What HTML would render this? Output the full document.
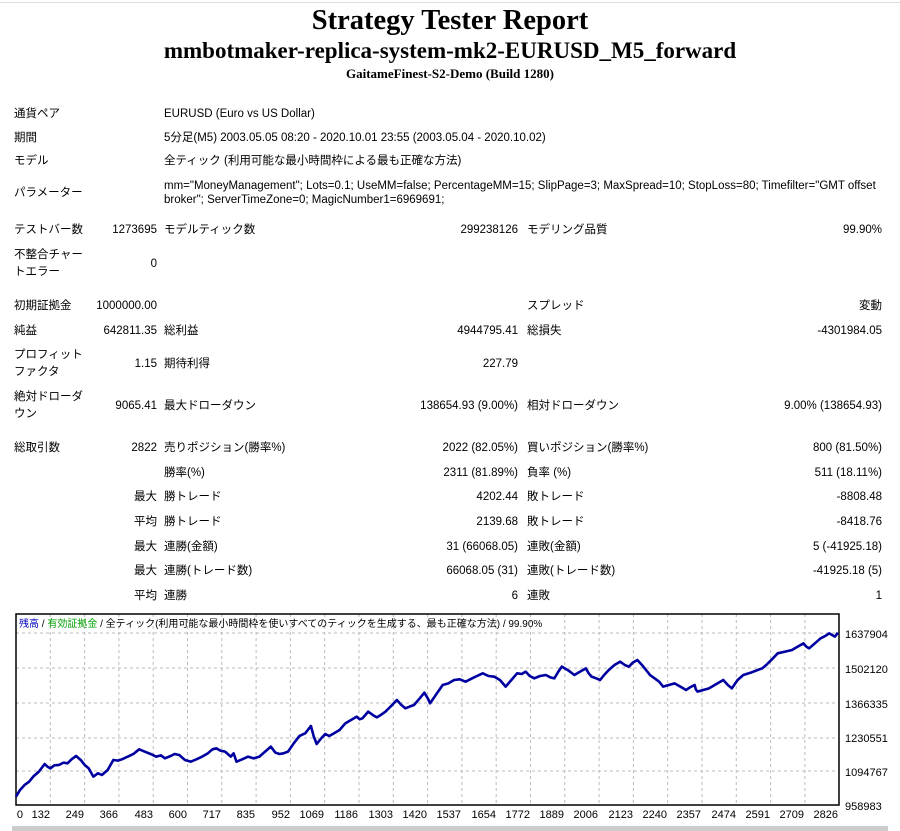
<!DOCTYPE html>
<html><head><meta charset="utf-8"><style>
body{margin:0;width:900px;height:831px;background:#fff;position:relative;overflow:hidden;font-family:"Liberation Sans","Noto Sans CJK JP",sans-serif;font-size:11.5px;color:#000}
.t{position:absolute;white-space:nowrap;line-height:14px}
.r{text-align:right}
.h{position:absolute;left:0;width:900px;text-align:center;font-family:"Liberation Serif",serif;font-weight:bold;white-space:nowrap}
</style></head><body>
<div style="position:absolute;left:0;top:2px;width:900px;height:1px;background:#ddd"></div>
<div class="h" style="top:4px;font-size:28.5px;line-height:34px">Strategy Tester Report</div>
<div class="h" style="top:38px;font-size:23px;line-height:26px">mmbotmaker-replica-system-mk2-EURUSD_M5_forward</div>
<div class="h" style="top:66px;font-size:13px;line-height:16px">GaitameFinest-S2-Demo (Build 1280)</div>

<div class="t" style="left:14px;top:107px">通貨ペア</div>
<div class="t" style="left:164px;top:107px">EURUSD (Euro vs US Dollar)</div>
<div class="t" style="left:14px;top:131px">期間</div>
<div class="t" style="left:164px;top:131px">5分足(M5) 2003.05.05 08:20 - 2020.10.01 23:55 (2003.05.04 - 2020.10.02)</div>
<div class="t" style="left:14px;top:154px">モデル</div>
<div class="t" style="left:164px;top:154px">全ティック (利用可能な最小時間枠による最も正確な方法)</div>
<div class="t" style="left:14px;top:186px">パラメーター</div>
<div class="t" style="left:164px;top:179px">mm="MoneyManagement"; Lots=0.1; UseMM=false; PercentageMM=15; SlipPage=3; MaxSpread=10; StopLoss=80; Timefilter="GMT offset</div>
<div class="t" style="left:164px;top:193px">broker"; ServerTimeZone=0; MagicNumber1=6969691;</div>

<div class="t" style="left:14px;top:223px">テストバー数</div>
<div class="t r" style="right:743px;top:223px">1273695</div>
<div class="t" style="left:164px;top:223px">モデルティック数</div>
<div class="t r" style="right:382px;top:223px">299238126</div>
<div class="t" style="left:527px;top:223px">モデリング品質</div>
<div class="t r" style="right:18px;top:223px">99.90%</div>

<div class="t" style="left:14px;top:248px">不整合チャー</div>
<div class="t" style="left:14px;top:265px">トエラー</div>
<div class="t r" style="right:743px;top:257px">0</div>

<div class="t" style="left:14px;top:299px">初期証拠金</div>
<div class="t r" style="right:743px;top:299px">1000000.00</div>
<div class="t" style="left:527px;top:299px">スプレッド</div>
<div class="t r" style="right:18px;top:299px">変動</div>

<div class="t" style="left:14px;top:324px">純益</div>
<div class="t r" style="right:743px;top:324px">642811.35</div>
<div class="t" style="left:164px;top:324px">総利益</div>
<div class="t r" style="right:382px;top:324px">4944795.41</div>
<div class="t" style="left:527px;top:324px">総損失</div>
<div class="t r" style="right:18px;top:324px">-4301984.05</div>

<div class="t" style="left:14px;top:348px">プロフィット</div>
<div class="t" style="left:14px;top:365px">ファクタ</div>
<div class="t r" style="right:743px;top:357px">1.15</div>
<div class="t" style="left:164px;top:357px">期待利得</div>
<div class="t r" style="right:382px;top:357px">227.79</div>

<div class="t" style="left:14px;top:390px">絶対ドローダ</div>
<div class="t" style="left:14px;top:407px">ウン</div>
<div class="t r" style="right:743px;top:399px">9065.41</div>
<div class="t" style="left:164px;top:399px">最大ドローダウン</div>
<div class="t r" style="right:382px;top:399px">138654.93 (9.00%)</div>
<div class="t" style="left:527px;top:399px">相対ドローダウン</div>
<div class="t r" style="right:18px;top:399px">9.00% (138654.93)</div>

<div class="t" style="left:14px;top:441px">総取引数</div>
<div class="t r" style="right:743px;top:441px">2822</div>
<div class="t" style="left:164px;top:441px">売りポジション(勝率%)</div>
<div class="t r" style="right:382px;top:441px">2022 (82.05%)</div>
<div class="t" style="left:527px;top:441px">買いポジション(勝率%)</div>
<div class="t r" style="right:18px;top:441px">800 (81.50%)</div>

<div class="t" style="left:164px;top:466px">勝率(%)</div>
<div class="t r" style="right:382px;top:466px">2311 (81.89%)</div>
<div class="t" style="left:527px;top:466px">負率 (%)</div>
<div class="t r" style="right:18px;top:466px">511 (18.11%)</div>

<div class="t r" style="right:743px;top:490px">最大</div>
<div class="t" style="left:164px;top:490px">勝トレード</div>
<div class="t r" style="right:382px;top:490px">4202.44</div>
<div class="t" style="left:527px;top:490px">敗トレード</div>
<div class="t r" style="right:18px;top:490px">-8808.48</div>

<div class="t r" style="right:743px;top:515px">平均</div>
<div class="t" style="left:164px;top:515px">勝トレード</div>
<div class="t r" style="right:382px;top:515px">2139.68</div>
<div class="t" style="left:527px;top:515px">敗トレード</div>
<div class="t r" style="right:18px;top:515px">-8418.76</div>

<div class="t r" style="right:743px;top:540px">最大</div>
<div class="t" style="left:164px;top:540px">連勝(金額)</div>
<div class="t r" style="right:382px;top:540px">31 (66068.05)</div>
<div class="t" style="left:527px;top:540px">連敗(金額)</div>
<div class="t r" style="right:18px;top:540px">5 (-41925.18)</div>

<div class="t r" style="right:743px;top:564px">最大</div>
<div class="t" style="left:164px;top:564px">連勝(トレード数)</div>
<div class="t r" style="right:382px;top:564px">66068.05 (31)</div>
<div class="t" style="left:527px;top:564px">連敗(トレード数)</div>
<div class="t r" style="right:18px;top:564px">-41925.18 (5)</div>

<div class="t r" style="right:743px;top:589px">平均</div>
<div class="t" style="left:164px;top:589px">連勝</div>
<div class="t r" style="right:382px;top:589px">6</div>
<div class="t" style="left:527px;top:589px">連敗</div>
<div class="t r" style="right:18px;top:589px">1</div>

<svg style="position:absolute;left:0;top:0" width="900" height="831" viewBox="0 0 900 831">
<g stroke="#bbb" stroke-dasharray="3,3" stroke-width="1">
<line x1="16" y1="633" x2="839" y2="633"/><line x1="16" y1="668" x2="839" y2="668"/><line x1="16" y1="703" x2="839" y2="703"/><line x1="16" y1="738" x2="839" y2="738"/><line x1="16" y1="771" x2="839" y2="771"/>
<line x1="50.3" y1="614" x2="50.3" y2="805"/><line x1="84.6" y1="614" x2="84.6" y2="805"/><line x1="118.9" y1="614" x2="118.9" y2="805"/><line x1="153.2" y1="614" x2="153.2" y2="805"/><line x1="187.5" y1="614" x2="187.5" y2="805"/><line x1="221.8" y1="614" x2="221.8" y2="805"/><line x1="256.1" y1="614" x2="256.1" y2="805"/><line x1="290.4" y1="614" x2="290.4" y2="805"/><line x1="324.7" y1="614" x2="324.7" y2="805"/><line x1="359" y1="614" x2="359" y2="805"/><line x1="393.3" y1="614" x2="393.3" y2="805"/><line x1="427.6" y1="614" x2="427.6" y2="805"/><line x1="461.9" y1="614" x2="461.9" y2="805"/><line x1="496.2" y1="614" x2="496.2" y2="805"/><line x1="530.5" y1="614" x2="530.5" y2="805"/><line x1="564.8" y1="614" x2="564.8" y2="805"/><line x1="599.1" y1="614" x2="599.1" y2="805"/><line x1="633.4" y1="614" x2="633.4" y2="805"/><line x1="667.7" y1="614" x2="667.7" y2="805"/><line x1="702" y1="614" x2="702" y2="805"/><line x1="736.3" y1="614" x2="736.3" y2="805"/><line x1="770.6" y1="614" x2="770.6" y2="805"/><line x1="804.9" y1="614" x2="804.9" y2="805"/>
</g>
<rect x="16" y="614" width="823" height="191" fill="none" stroke="#000" stroke-width="1.5"/>
<g transform="translate(1.68,600) scale(0.5727,0.3333)">
<polyline fill="none" stroke="#0000a0" stroke-width="2.6" vector-effect="non-scaling-stroke" stroke-linejoin="round" points="25,590 32,570 40,555 48,545 55,530 65,515 75,492 80,500 85,505 92,496 100,495 108,488 115,490 122,478 130,468 138,480 145,495 152,505 160,530 168,520 175,525 185,510 195,480 203,482 210,478 220,470 230,462 240,448 250,455 260,462 270,470 278,466 285,475 295,468 302,462 310,465 320,480 330,485 340,478 350,470 360,460 368,448 375,445 382,452 390,455 400,470 405,460 410,485 420,478 430,470 440,475 450,470 460,455 470,440 478,458 485,462 492,460 500,455 510,430 520,408 530,400 540,378 545,410 550,432 558,415 565,402 572,408 580,400 590,390 600,370 610,360 620,350 625,358 630,355 635,345 640,335 648,345 655,352 662,345 670,335 680,318 690,300 698,315 705,325 712,320 720,315 730,295 738,278 744,295 748,310 758,285 770,255 780,250 790,240 800,238 810,245 825,232 840,220 850,228 860,230 870,240 880,260 890,240 900,220 908,222 915,215 922,228 930,235 940,228 950,225 958,232 965,235 972,215 978,200 990,212 1000,225 1010,215 1020,205 1025,220 1030,230 1038,235 1045,240 1052,225 1060,210 1070,195 1080,185 1088,195 1095,200 1102,188 1110,180 1118,195 1125,210 1132,225 1140,235 1148,245 1155,260 1165,255 1175,250 1185,260 1195,270 1202,262 1210,255 1212,268 1215,275 1225,270 1235,265 1245,255 1260,240 1268,255 1275,265 1285,240 1295,225 1308,218 1320,210 1328,205 1335,195 1345,178 1355,160 1368,155 1380,150 1390,140 1400,130 1405,140 1410,145 1420,130 1430,115 1438,108 1445,100 1450,105 1455,110 1458,103 1460,98"/>
</g>
<g font-family="Liberation Sans, sans-serif" font-size="11">
<text x="845" y="638">1637904</text><text x="845" y="673">1502120</text><text x="845" y="708">1366335</text><text x="845" y="742">1230551</text><text x="845" y="776">1094767</text><text x="845" y="810">958983</text>
<g text-anchor="end">
<text x="23" y="818">0</text><text x="50" y="818">132</text><text x="84" y="818">249</text><text x="118" y="818">366</text><text x="153" y="818">483</text><text x="187" y="818">600</text><text x="221" y="818">717</text><text x="255" y="818">835</text><text x="290" y="818">952</text><text x="324" y="818">1069</text><text x="358" y="818">1186</text><text x="393" y="818">1303</text><text x="427" y="818">1420</text><text x="461" y="818">1537</text><text x="496" y="818">1654</text><text x="530" y="818">1772</text><text x="564" y="818">1889</text><text x="598" y="818">2006</text><text x="633" y="818">2123</text><text x="667" y="818">2240</text><text x="701" y="818">2357</text><text x="736" y="818">2474</text><text x="770" y="818">2591</text><text x="804" y="818">2709</text><text x="838" y="818">2826</text>
</g>
</g>
<text x="19" y="627" font-family="Liberation Sans, Noto Sans CJK JP, sans-serif" font-size="10"><tspan fill="#0000c0">残高</tspan> / <tspan fill="#00a000">有効証拠金</tspan> / 全ティック(利用可能な最小時間枠を使いすべてのティックを生成する、最も正確な方法) / 99.90%</text>
<rect x="12" y="826" width="876" height="5" fill="#ccc"/>
</svg>
</body></html>
